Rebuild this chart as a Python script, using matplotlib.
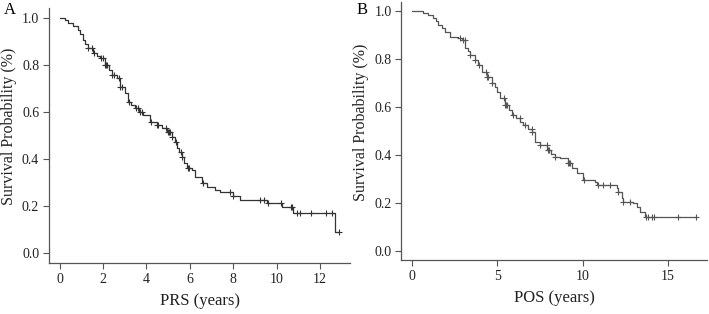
import numpy as np
import matplotlib
matplotlib.use('Agg')
import matplotlib.pyplot as plt

plt.rcParams['font.family'] = ['Liberation Serif', 'DejaVu Serif']

# Panel A: PRS Kaplan-Meier steps (time in years, survival after step)
prs_times = [0.0, 0.1, 0.25, 0.37, 0.6, 0.83, 0.95, 1.06, 1.18, 1.29, 1.52,
             1.7, 1.85, 2.08, 2.25, 2.4, 2.63, 2.77, 3.0, 3.14, 3.3, 3.46,
             3.65, 3.83, 4.15, 4.48, 4.7, 4.94, 5.2, 5.3, 5.4, 5.5, 5.63,
             5.75, 5.86, 6.09, 6.23, 6.55, 6.78, 7.15, 7.38, 7.98, 8.3,
             9.55, 10.24, 10.75, 12.69]
prs_surv = [1.0, 1.0, 0.99, 0.98, 0.965, 0.95, 0.93, 0.906, 0.89, 0.872,
            0.851, 0.84, 0.83, 0.80, 0.78, 0.757, 0.745, 0.706, 0.68, 0.643,
            0.63, 0.617, 0.6, 0.587, 0.557, 0.545, 0.53, 0.515, 0.494, 0.472,
            0.447, 0.43, 0.409, 0.385, 0.362, 0.353, 0.323, 0.298, 0.281,
            0.268, 0.26, 0.243, 0.226, 0.213, 0.196, 0.17, 0.089]
prs_censor = [1.3, 1.5, 1.6, 1.9, 2.0, 2.1, 2.15, 2.2, 2.4, 2.5, 2.75, 2.8,
              2.85, 3.2, 3.5, 3.6, 3.7, 3.8, 4.2, 4.5, 4.55, 4.9, 5.0, 5.05,
              5.1, 5.2, 5.35, 5.6, 5.65, 5.9, 5.95, 6.6, 7.85, 8.0, 9.25,
              9.4, 9.6, 10.2, 10.65, 10.72, 10.95, 11.1, 11.6, 12.3, 12.55,
              12.9]
prs_ticks = [0, 2, 4, 6, 8, 10, 12]

# Panel B: POS Kaplan-Meier steps
pos_times = [0.0, 0.47, 0.65, 0.94, 1.23, 1.4, 1.52, 1.75, 1.94, 2.23, 2.7,
             2.93, 3.11, 3.25, 3.4, 3.7, 3.87, 4.1, 4.4, 4.69, 4.85, 4.99,
             5.16, 5.45, 5.65, 5.87, 6.1, 6.33, 6.51, 6.8, 7.04, 7.21, 7.5,
             7.92, 8.15, 8.39, 8.68, 9.15, 9.38, 9.68, 10.03, 10.73, 10.85,
             12.02, 12.08, 12.32, 12.38, 12.96, 13.2, 13.37, 13.67]
pos_surv = [1.0, 1.0, 0.995, 0.986, 0.974, 0.96, 0.944, 0.93, 0.915, 0.894,
            0.89, 0.882, 0.849, 0.835, 0.82, 0.799, 0.778, 0.748, 0.727,
            0.702, 0.685, 0.664, 0.639, 0.61, 0.59, 0.568, 0.553, 0.539,
            0.527, 0.51, 0.497, 0.455, 0.443, 0.422, 0.405, 0.393, 0.389,
            0.368, 0.347, 0.326, 0.297, 0.288, 0.276, 0.263, 0.247, 0.221,
            0.205, 0.2, 0.184, 0.163, 0.142]
pos_censor = [2.8, 3.0, 3.1, 3.4, 3.7, 3.9, 4.3, 4.4, 4.45, 4.7, 5.4, 5.45,
              5.5, 5.55, 5.9, 6.3, 6.6, 7.0, 7.05, 7.5, 7.9, 7.95, 8.0, 8.4,
              9.15, 9.2, 9.25, 10.1, 10.9, 11.2, 11.6, 12.1, 12.4, 12.8,
              13.72, 13.84, 14.08, 14.19, 15.6, 16.66]
pos_ticks = [0, 5, 10, 15]

yticks = [0.0, 0.2, 0.4, 0.6, 0.8, 1.0]


def km_panel(ax, times, surv, censor, xticks, xlim, ylim, xlabel, color):
    t = np.array(times)
    s = np.array(surv)
    tend = max(max(censor), t[-1])
    ax.step(np.append(t, tend), np.append(s, s[-1]), where='post',
            color=color, linewidth=0.9)
    # censor marks sit on the curve
    idx = np.searchsorted(t, censor, side='right') - 1
    ax.plot(censor, s[idx], linestyle='none', marker='+', markersize=5,
            markeredgewidth=0.8, color=color)
    ax.set_xlim(*xlim)
    ax.set_ylim(*ylim)
    ax.set_xticks(xticks)
    ax.set_yticks(yticks)
    ax.set_yticklabels([f'{v:.1f}' for v in yticks])
    for sp in ['top', 'right']:
        ax.spines[sp].set_visible(False)
    for sp in ['left', 'bottom']:
        ax.spines[sp].set_color('#555555')
        ax.spines[sp].set_linewidth(0.9)
    ax.tick_params(direction='out', length=4, width=0.8, color='#555555',
                   labelsize=10, labelcolor='#222222', pad=3)
    ax.set_xlabel(xlabel, fontsize=12, color='#222222', labelpad=5)
    ax.set_ylabel('Survival Probability (%)', fontsize=11.5,
                  color='#222222', labelpad=5)
    ax.yaxis.set_label_coords(-0.105, 0.535)


fig = plt.figure(figsize=(7.09, 3.14), dpi=100)
axA = fig.add_axes([0.069, 0.162, 0.425, 0.813])
axB = fig.add_axes([0.566, 0.172, 0.431, 0.822])

km_panel(axA, prs_times, prs_surv, prs_censor, prs_ticks, (-0.5, 13.4),
         (-0.043, 1.043), 'PRS (years)', '#333333')
km_panel(axB, pos_times, pos_surv, pos_censor, pos_ticks, (-0.65, 17.3),
         (-0.038, 1.04), 'POS (years)', '#555555')

fig.text(0.014, 0.968, 'A', fontsize=12, va='center', ha='center')
fig.text(0.511, 0.968, 'B', fontsize=12, va='center', ha='center')

fig.savefig('out.png', dpi=100)
